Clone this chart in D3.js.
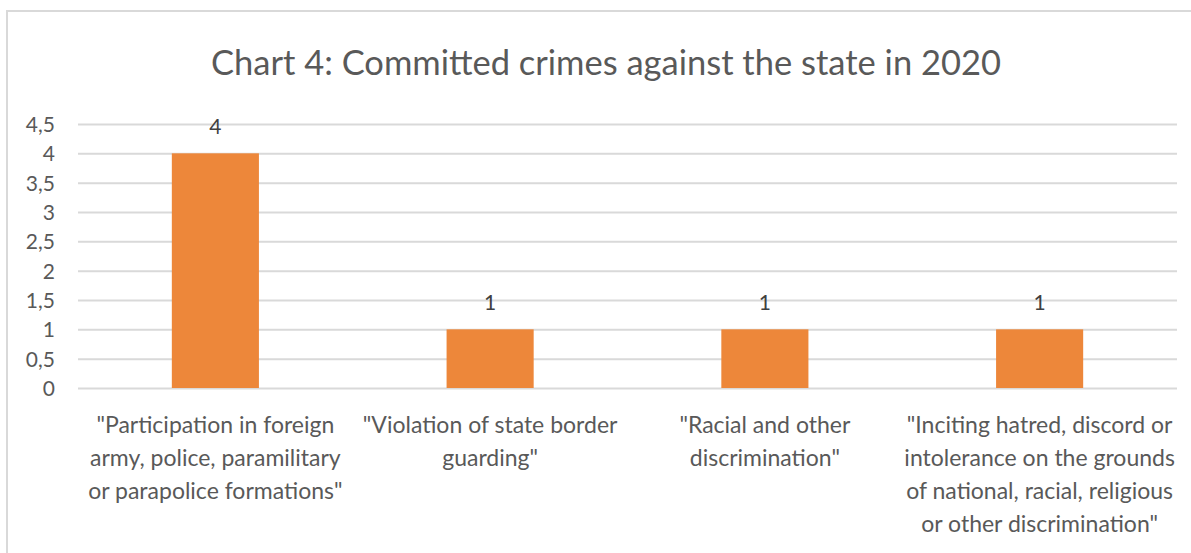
<!DOCTYPE html>
<html>
<head>
<meta charset="utf-8">
<script src="https://cdn.jsdelivr.net/npm/d3@7"></script>
<style>
  html, body { margin: 0; padding: 0; background: #ffffff; }
  svg { display: block; }
  text { font-family: Lato, "Noto Sans", sans-serif; }
</style>
</head>
<body>
<svg id="chart" width="1191" height="553"></svg>
<script>
// ---- data ----
const title = "Chart 4: Committed crimes against the state in 2020";
const categories = [
  ["\"Participation in foreign", "army, police, paramilitary", "or parapolice formations\""],
  ["\"Violation of state border", "guarding\""],
  ["\"Racial and other", "discrimination\""],
  ["\"Inciting hatred, discord or", "intolerance on the grounds", "of national, racial, religious", "or other discrimination\""]
];
const values = [4, 1, 1, 1];
const yTicks = [0, 0.5, 1, 1.5, 2, 2.5, 3, 3.5, 4, 4.5];
const yMax = 4.5;

// ---- layout / style ----
const W = 1191, H = 553;
const plot = { left: 78, right: 1177, top: 124, bottom: 388 };
const gridColor = "#d9d9d9";
const textColor = "#595959";
const barColor = "#ed873a";

const svg = d3.select("#chart");

// chart border
svg.append("rect")
  .attr("x", 7).attr("y", 11)
  .attr("width", W + 20).attr("height", H + 20)
  .attr("fill", "none").attr("stroke", gridColor).attr("stroke-width", 2);

const x = d3.scaleBand()
  .domain(d3.range(categories.length))
  .range([plot.left, plot.right])
  .paddingInner(0.683).paddingOuter(0.3415);

const y = d3.scaleLinear().domain([0, yMax]).range([plot.bottom, plot.top]);

// gridlines + y axis
const yAxis = d3.axisLeft(y)
  .tickValues(yTicks)
  .tickSize(-(plot.right - plot.left))
  .tickPadding(23)
  .tickFormat(d => String(d).replace(".", ","));

const gy = svg.append("g")
  .attr("transform", `translate(${plot.left},0)`)
  .call(yAxis);
gy.select(".domain").remove();
gy.selectAll(".tick line").attr("stroke", gridColor).attr("stroke-width", 2);
gy.selectAll(".tick text")
  .attr("fill", textColor)
  .style("font-size", "21px")
  .attr("dy", "0.36em");

// bars
svg.append("g").selectAll("rect")
  .data(values)
  .join("rect")
  .attr("x", (d, i) => x(i))
  .attr("width", x.bandwidth())
  .attr("y", d => y(d))
  .attr("height", d => y(0) - y(d))
  .attr("fill", barColor);

// data labels
svg.append("g").selectAll("text")
  .data(values)
  .join("text")
  .attr("x", (d, i) => x(i) + x.bandwidth() / 2)
  .attr("y", d => y(d) - 19)
  .attr("text-anchor", "middle")
  .attr("fill", "#404040")
  .style("font-size", "21px")
  .text(d => d);

// category labels
const xl = svg.append("g");
categories.forEach((lines, i) => {
  const cx = x(i) + x.bandwidth() / 2;
  const t = xl.append("g");
  lines.forEach((ln, j) => {
    t.append("text")
      .attr("x", cx)
      .attr("y", 433 + j * 33)
      .attr("text-anchor", "middle")
      .attr("fill", textColor)
      .style("font-size", "23px")
      .text(ln);
  });
});

// title
svg.append("text")
  .attr("x", 606)
  .attr("y", 75)
  .attr("text-anchor", "middle")
  .attr("fill", textColor)
  .style("font-size", "34.5px")
  .text(title);
</script>
</body>
</html>
